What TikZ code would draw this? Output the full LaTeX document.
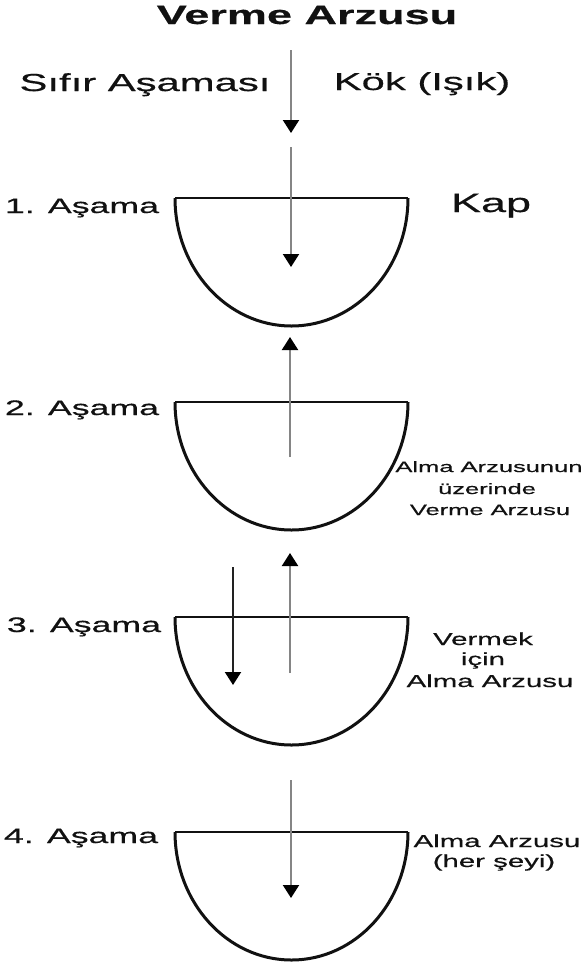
\documentclass[tikz,border=0pt]{standalone}
\usepackage{fontspec}
\setmainfont{Liberation Sans}[FakeStretch=1.7,FakeBold=0.5]
\usetikzlibrary{arrows.meta}
\definecolor{arrgray}{HTML}{858585}
\definecolor{arrdark}{HTML}{222222}
\definecolor{inkc}{HTML}{111111}
\tikzset{
  cupshape/.pic={
    \draw[line width=2.3pt,inkc] (-116.5,0) -- (116.5,0);
    \draw[line width=3pt,inkc] (-116.5,0) arc[start angle=180,end angle=0,x radius=116.5,y radius=128];
  },
  grayarrow/.style={line width=2pt, draw=arrgray, -{Triangle[width=16pt,length=13pt,color=black]}},
  darkarrow/.style={line width=2pt, draw=arrdark, -{Triangle[width=16pt,length=13pt,color=black]}},
  lbl/.style={inner sep=0pt, anchor=base, text=inkc},
  stagelbl/.style={lbl, font=\fontsize{21}{25}\selectfont},
  sidelbl/.style={lbl, font=\fontsize{24.6}{28}\selectfont},
  smalllbl/.style={lbl, font=\fontsize{15}{18}\selectfont},
  medlbl/.style={lbl, font=\fontsize{17.3}{20}\selectfont}
}
\begin{document}
\begin{tikzpicture}[x=1pt,y=-1pt]
\useasboundingbox[fill=white] (0,0) rectangle (587,962);

% cups
\pic at (291.5,198) {cupshape};
\pic at (291.5,402) {cupshape};
\pic at (291.5,617) {cupshape};
\pic at (291.5,832) {cupshape};

% arrow end points
\coordinate (a0s) at (291,50);  \coordinate (a0e) at (291,133);
\coordinate (a1s) at (291,147); \coordinate (a1e) at (291,267);
\coordinate (a2s) at (290,457); \coordinate (a2e) at (290,337);
\coordinate (a3s) at (290,673); \coordinate (a3e) at (290,553);
\coordinate (b3s) at (233,567); \coordinate (b3e) at (233,685);
\coordinate (a4s) at (291,780); \coordinate (a4e) at (291,898);

\draw[grayarrow] (a0s) -- (a0e);
\draw[grayarrow] (a1s) -- (a1e);
\draw[grayarrow] (a2s) -- (a2e);
\draw[grayarrow] (a3s) -- (a3e);
\draw[darkarrow] (b3s) -- (b3e);
\draw[grayarrow] (a4s) -- (a4e);

% texts
\node[lbl, font=\bfseries\fontsize{26.5}{30}\selectfont] (title) at (307,24) {Verme Arzusu};
\node[sidelbl] (sifir) at (145,91) {Sıfır Aşaması};
\node[sidelbl] (kok) at (422,90) {Kök (Işık)};
\node[stagelbl] (s1) at (82,213) {1. Aşama};
\node[lbl, font=\fontsize{26.5}{30}\selectfont] (kap) at (491,212) {Kap};
\node[stagelbl] (s2) at (82,415) {2. Aşama};
\node[stagelbl] (s3) at (84,632) {3. Aşama};
\node[stagelbl] (s4) at (81,843) {4. Aşama};

\node[smalllbl] (r2a) at (489,472) {Alma Arzusunun};
\node[smalllbl] (r2b) at (487,494) {üzerinde};
\node[smalllbl] (r2c) at (490,515) {Verme Arzusu};

\node[medlbl] (r3a) at (483,645) {Vermek};
\node[medlbl] (r3b) at (483,665) {için};
\node[medlbl] (r3c) at (490,687) {Alma Arzusu};

\node[medlbl] (r4a) at (497,847) {Alma Arzusu};
\node[medlbl] (r4b) at (494,867) {(her şeyi)};
\end{tikzpicture}
\end{document}
